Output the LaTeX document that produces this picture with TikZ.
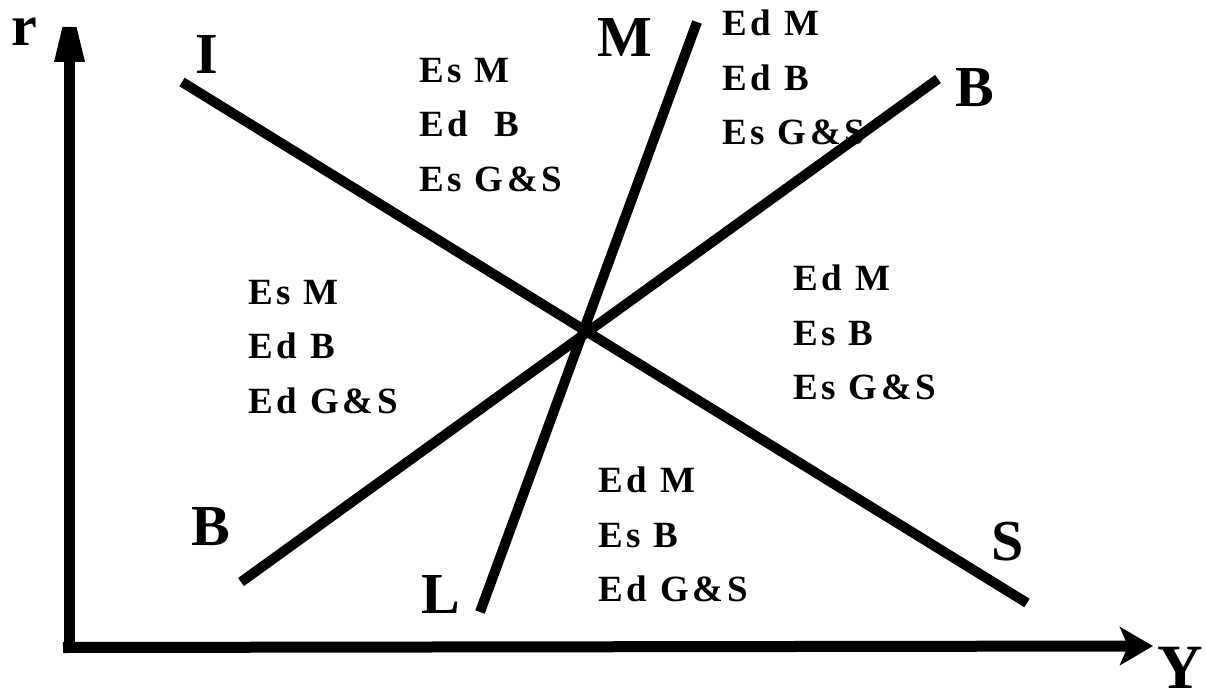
\documentclass[tikz,border=0pt]{standalone}
\usepackage{fontspec}
\setmainfont{Liberation Serif}
\usepackage{tikz}
\usetikzlibrary{arrows.meta,calc}

\begin{document}
\begin{tikzpicture}[
  x=1pt,y=-1pt,
  % thick black strokes everywhere, the schedules and the two axes alike
  axis/.style={line width=11pt,black},
  sched/.style={line width=10pt,black},
  lab/.style={inner sep=0pt,font=\bfseries\fontsize{58}{60}\selectfont},
  zone/.style={anchor=north west,inner sep=0pt,align=left,
    font=\bfseries\fontsize{37}{54.5}\selectfont\addfontfeature{LetterSpace=10}},
]
\useasboundingbox (0,0) rectangle (1207,693);

% =========== axes =====================================================
\coordinate (orig)  at (69.5,653);
\coordinate (yorig) at (63,647.5);
\coordinate (rbase) at (69.5,62);
\coordinate (rtip)  at (69.5,27);
\coordinate (ytip)  at (1153,646);
\draw[axis] (orig) -- (rbase);
\fill ($(rbase)+(-15.5,0)$) -- ($(rtip)+(-7,0)$) -- ($(rtip)+(7,0)$)
      -- ($(rbase)+(15.5,0)$) -- cycle;
\draw[axis,-{Stealth[length=33pt,width=38pt,inset=8pt]}] (yorig) -- (ytip);
\node[lab] (rlab) at (24,32) {r};
\node[lab,anchor=north west,font=\bfseries\fontsize{63}{65}\selectfont]
  (ylab) at (1157,647) {Y};

% =========== the three schedules ======================================
\coordinate (is0) at (182,82);
\coordinate (is1) at (1027,603);
\coordinate (bb0) at (241,582);
\coordinate (bb1) at (938,79);
\coordinate (lm0) at (480,612);
\coordinate (lm1) at (697,22);
\draw[sched] (is0) -- (is1);
\draw[sched] (bb0) -- (bb1);
\draw[sched] (lm0) -- (lm1);
\node[lab] (ilab)  at (207,55)  {I};
\node[lab] (slab)  at (1008,542) {S};
\node[lab] (mlab)  at (625,38)  {M};
\node[lab] (llab)  at (441,595) {L};
\node[lab] (b1lab) at (975,88)  {B};
\node[lab] (b0lab) at (211,527) {B};

% =========== what each region is in excess of =========================
\node[zone] (ztop)   at (419,58)  {Es M\\Ed~~B\\Es G\&S};
\node[zone] (ztr)    at (722,10)  {Ed M\\Ed B\\Es G\&S};
\node[zone] (zleft)  at (248,280) {Es M\\Ed B\\Ed G\&S};
\node[zone] (zright) at (793,265) {Ed M\\Es B\\Es G\&S};
\node[zone] (zbot)   at (598,467) {Ed M\\Es B\\Ed G\&S};

\end{tikzpicture}
\end{document}
